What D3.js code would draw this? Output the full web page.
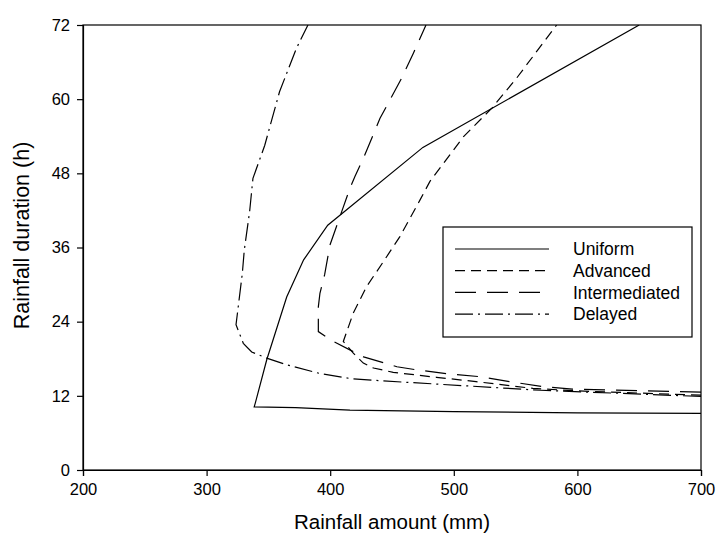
<!DOCTYPE html>
<html>
<head>
<meta charset="utf-8">
<script src="https://cdn.jsdelivr.net/npm/d3@7"></script>
<style>
  html, body { margin: 0; padding: 0; background: #fff; }
  svg { display: block; font-family: "Liberation Sans", Arial, sans-serif; }
</style>
</head>
<body>
<svg id="chart" width="716" height="543"></svg>
<script>
// ---- data (rainfall amount mm, duration h) ----
const seriesNames = ["Uniform", "Advanced", "Intermediated", "Delayed"];

const uniform = [
  [700, 9.15], [600, 9.25], [500, 9.45], [416, 9.7], [372, 10.1], [338.5, 10.2],
  [339.5, 10.9], [348.6, 17.8], [364.8, 28], [378.5, 34], [398, 39.6], [475, 52.2], [650, 72]
];

const advanced = [
  [700, 12.1], [600, 12.8], [564, 13.2], [518, 14.3], [486, 15.0], [451, 15.8], [435, 16.5],
  [426.8, 17.3], [418.7, 18.9], [410.6, 20.8], [418.7, 25.4], [429.5, 29.7], [443, 33.7],
  [456.5, 37.8], [472.7, 43.7], [480.7, 46.7], [507.7, 53.9], [531, 58.6], [550.8, 63.4], [583.2, 72]
];

const intermediated = [
  [700, 12.6], [596, 13.1], [572, 13.5], [545, 14.3], [521, 15.1], [494, 15.6], [470, 16.2],
  [454, 16.7], [446, 17.2], [427, 18.3], [402.5, 20.8], [390.4, 22.4], [390.4, 26.4],
  [391.7, 28.6], [395.5, 31.6], [399.8, 36.4], [409.3, 41.8], [416, 45.6], [420, 47.5],
  [426.8, 50.4], [440.3, 56.9], [457.8, 63.4], [467.2, 67.4], [477.5, 72]
];

const delayed = [
  [700, 11.9], [570, 12.9], [440, 14.45], [416, 14.8], [392, 15.6], [365, 17], [348.6, 18.1],
  [336.5, 19.1], [329.7, 20.5], [323.8, 23.5], [328.9, 31.8], [330.5, 35.6], [334.8, 41.8],
  [337.5, 47.2], [347, 52.5], [359, 61.2], [372.6, 68.2], [382, 72]
];

const xTicks = [200, 300, 400, 500, 600, 700];
const yTicks = [0, 12, 24, 36, 48, 60, 72];
const xTitle = "Rainfall amount (mm)";
const yTitle = "Rainfall duration (h)";

// ---- layout ----
const svg = d3.select("#chart");
const margin = { left: 83, top: 25, right: 15, bottom: 73 };
const W = 716, H = 543;
const iw = W - margin.left - margin.right; // 618
const ih = H - margin.top - margin.bottom; // 445

const x = d3.scaleLinear().domain([200, 700]).range([0, iw]);
const y = d3.scaleLinear().domain([0, 72]).range([ih, 0]);

const g = svg.append("g").attr("transform", `translate(${margin.left},${margin.top})`);

g.append("defs").append("clipPath").attr("id", "clip")
  .append("rect").attr("width", iw).attr("height", ih);

// frame
g.append("rect").attr("width", iw).attr("height", ih)
  .attr("fill", "none").attr("stroke", "#000").attr("stroke-width", 1.2);

// axes
const xAxis = g.append("g").attr("transform", `translate(0,${ih})`)
  .call(d3.axisBottom(x).tickValues(xTicks).tickSize(6).tickPadding(7).tickFormat(d3.format("d")));
const yAxis = g.append("g")
  .call(d3.axisLeft(y).tickValues(yTicks).tickSize(6).tickPadding(7).tickFormat(d3.format("d")));
[xAxis, yAxis].forEach(a => {
  a.select(".domain").attr("stroke", "#000").attr("stroke-width", 1.2);
  a.selectAll(".tick line").attr("stroke", "#000").attr("stroke-width", 1.2);
  a.selectAll(".tick text").attr("fill", "#000").style("font-size", "16.5px")
    .style("font-family", "'Liberation Sans', Arial, sans-serif");
});

// titles
svg.append("text").attr("x", margin.left + iw / 2).attr("y", 529)
  .attr("text-anchor", "middle").style("font-size", "20.5px").text(xTitle);
svg.append("text").attr("transform", `translate(29,${margin.top + ih / 2 - 12}) rotate(-90)`)
  .attr("text-anchor", "middle").style("font-size", "21.5px").text(yTitle);

// lines
const dashes = {
  Uniform: null,
  Advanced: "10,6",
  Intermediated: "21,11",
  Delayed: "18,5,2,5"
};
const dataBy = { Uniform: uniform, Advanced: advanced, Intermediated: intermediated, Delayed: delayed };
const line = d3.line().x(d => x(d[0])).y(d => y(d[1]));

const plot = g.append("g").attr("clip-path", "url(#clip)");
seriesNames.forEach(name => {
  plot.append("path").datum(dataBy[name])
    .attr("d", line).attr("fill", "none").attr("stroke", "#000")
    .attr("stroke-width", 1.2)
    .attr("stroke-dasharray", dashes[name]);
});

// legend
const lg = svg.append("g").attr("transform", "translate(443,227)");
lg.append("rect").attr("width", 249).attr("height", 110)
  .attr("fill", "#fff").attr("stroke", "#000").attr("stroke-width", 1.2);
seriesNames.forEach((name, i) => {
  const yy = 22 + i * 21.7;
  lg.append("line").attr("x1", 12).attr("x2", 106).attr("y1", yy).attr("y2", yy)
    .attr("stroke", "#000").attr("stroke-width", 1.2).attr("stroke-dasharray", dashes[name]);
  lg.append("text").attr("x", 130).attr("y", yy).attr("dy", "0.35em")
    .style("font-size", "17.5px").text(name);
});
</script>
</body>
</html>
